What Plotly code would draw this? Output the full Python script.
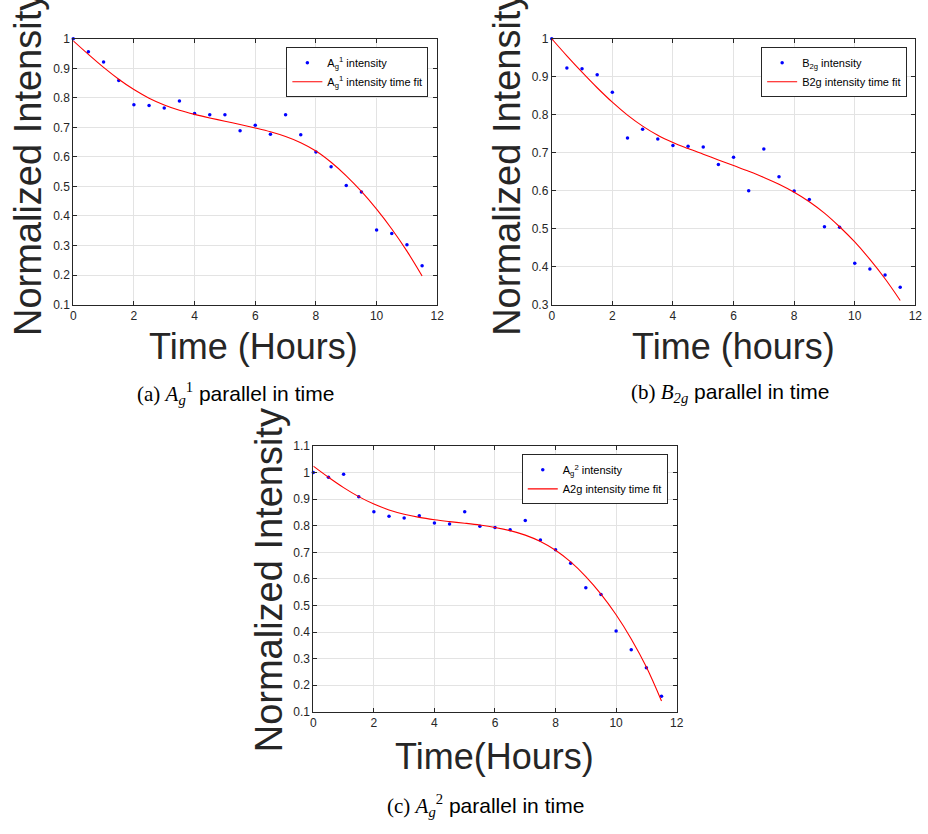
import plotly.graph_objects as go

# Measurement times (hours)
hours = [0, 0.5, 1, 1.5, 2, 2.5, 3, 3.5, 4, 4.5, 5, 5.5,
         6, 6.5, 7, 7.5, 8, 8.5, 9, 9.5, 10, 10.5, 11, 11.5]

# A_g^1 mode: measured normalized intensity and time fit
a1_intensity = [1.000, 0.956, 0.921, 0.859, 0.777, 0.774, 0.766, 0.789, 0.747, 0.743, 0.743, 0.689,
                0.707, 0.677, 0.743, 0.675, 0.617, 0.567, 0.503, 0.481, 0.353, 0.341, 0.303, 0.232]
a1_fit = [0.993, 0.947, 0.903, 0.863, 0.828, 0.799, 0.776, 0.758, 0.744, 0.732, 0.721, 0.710,
          0.698, 0.685, 0.669, 0.648, 0.620, 0.582, 0.536, 0.483, 0.423, 0.356, 0.281, 0.197]

# B_2g mode
b2g_intensity = [1.000, 0.923, 0.921, 0.905, 0.859, 0.739, 0.762, 0.736, 0.719, 0.717, 0.715, 0.669,
                 0.688, 0.600, 0.710, 0.637, 0.599, 0.577, 0.505, 0.504, 0.409, 0.394, 0.378, 0.346]
b2g_fit = [1.000, 0.955, 0.912, 0.871, 0.833, 0.799, 0.770, 0.746, 0.727, 0.711, 0.696, 0.681,
           0.666, 0.651, 0.635, 0.617, 0.596, 0.571, 0.541, 0.505, 0.465, 0.419, 0.368, 0.311]

# A_g^2 mode
a2_intensity = [1.001, 0.983, 0.994, 0.910, 0.853, 0.836, 0.830, 0.838, 0.811, 0.807, 0.853, 0.798,
                0.794, 0.785, 0.820, 0.747, 0.710, 0.659, 0.567, 0.541, 0.404, 0.333, 0.265, 0.158]
a2_fit = [1.025, 0.983, 0.944, 0.910, 0.882, 0.860, 0.844, 0.832, 0.823, 0.816, 0.810, 0.803,
          0.794, 0.782, 0.765, 0.741, 0.708, 0.664, 0.609, 0.543, 0.465, 0.374, 0.268, 0.140]

x_ticks = [0, 2, 4, 6, 8, 10, 12]
yticks_a = [0.1, 0.2, 0.3, 0.4, 0.5, 0.6, 0.7, 0.8, 0.9, 1.0]
yticks_b = [0.3, 0.4, 0.5, 0.6, 0.7, 0.8, 0.9, 1.0]
yticks_c = [0.1, 0.2, 0.3, 0.4, 0.5, 0.6, 0.7, 0.8, 0.9, 1.0, 1.1]

W, H = 928, 834
AX_COLOR = "#262626"
GRID = "#e3e3e3"
SANS = "Liberation Sans, Arial, sans-serif"
SERIF = "Liberation Serif, DejaVu Serif, serif"


def px_x(p):
    return p / W


def px_y(p):
    return 1 - p / H


def fmt(v):
    s = f"{v:.1f}"
    return "1" if s == "1.0" else s


fig = go.Figure()

panels = [
    # (axis suffix, measured, fit, legend id, point name, fit name)
    ("", a1_intensity, a1_fit, "legend",
     "A<sub>g</sub><sup>1</sup> intensity", "A<sub>g</sub><sup>1</sup> intensity time fit"),
    ("2", b2g_intensity, b2g_fit, "legend2",
     "B<sub>2g</sub> intensity", "B2g intensity time fit"),
    ("3", a2_intensity, a2_fit, "legend3",
     "A<sub>g</sub><sup>2</sup> intensity", "A2g intensity time fit"),
]

for suffix, meas, fit, leg, pname, fname in panels:
    fig.add_trace(go.Scatter(
        x=hours, y=meas, mode="markers", name=pname,
        marker=dict(color="#0000ff", size=3.5),
        cliponaxis=False,
        xaxis="x" + suffix, yaxis="y" + suffix, legend=leg,
    ))
    fig.add_trace(go.Scatter(
        x=hours, y=fit, mode="lines", name=fname,
        line=dict(color="#ff0000", width=1.1, shape="spline", smoothing=1.0),
        xaxis="x" + suffix, yaxis="y" + suffix, legend=leg,
    ))


def xaxis(domain, anchor):
    return dict(domain=domain, anchor=anchor, range=[0, 12], tickvals=x_ticks,
                ticktext=[str(t) for t in x_ticks], ticks="inside", ticklen=4,
                tickcolor=AX_COLOR, showline=True, linecolor=AX_COLOR, linewidth=1,
                mirror="ticks", showgrid=True, gridcolor=GRID, gridwidth=1,
                zeroline=False, tickfont=dict(family=SANS, size=12, color=AX_COLOR))


def yaxis(domain, anchor, rng, ticks):
    return dict(domain=domain, anchor=anchor, range=rng, tickvals=ticks,
                ticktext=[fmt(t) for t in ticks], ticks="inside", ticklen=4,
                tickcolor=AX_COLOR, showline=True, linecolor=AX_COLOR, linewidth=1,
                mirror="ticks", showgrid=True, gridcolor=GRID, gridwidth=1,
                zeroline=False, tickfont=dict(family=SANS, size=12, color=AX_COLOR))


dom_a_x = [px_x(71), px_x(439)]
dom_b_x = [px_x(554.7), px_x(922.3)]
dom_top_y = [px_y(302.7), px_y(32.3)]
dom_c_x = [px_x(313.7), px_x(681)]
dom_c_y = [px_y(716.7), px_y(446.7)]


def legend_at(right_px, top_px):
    return dict(x=px_x(right_px), y=px_y(top_px), xanchor="right", yanchor="top",
                bgcolor="white", bordercolor=AX_COLOR, borderwidth=1,
                font=dict(family=SANS, size=11, color="#000000"),
                itemwidth=30, tracegroupgap=0)


fig.update_layout(
    width=W, height=H, margin=dict(l=0, r=0, t=0, b=0),
    paper_bgcolor="white", plot_bgcolor="white", showlegend=True,
    xaxis=xaxis(dom_a_x, "y"),
    yaxis=yaxis(dom_top_y, "x", [0.1, 1.0], yticks_a),
    xaxis2=xaxis(dom_b_x, "y2"),
    yaxis2=yaxis(dom_top_y, "x2", [0.3, 1.0], yticks_b),
    xaxis3=xaxis(dom_c_x, "y3"),
    yaxis3=yaxis(dom_c_y, "x3", [0.1, 1.1], yticks_c),
    legend=legend_at(430, 41),
    legend2=legend_at(914, 41),
    legend3=legend_at(672, 455),
)

TITLE_FONT = dict(family=SANS, size=36, color=AX_COLOR)
YTITLE_FONT = dict(family=SANS, size=38, color=AX_COLOR)

# Axis titles
for (x, y, txt) in [(253, 345, "Time (Hours)"), (738, 345, "Time (hours)"), (497, 762, "Time(Hours)")]:
    fig.add_annotation(x=px_x(x), y=px_y(y), xref="paper", yref="paper", text=txt,
                       showarrow=False, xanchor="center", yanchor="middle", font=TITLE_FONT)

for (x, y) in [(26, 160), (510, 160), (269, 583)]:
    fig.add_annotation(x=px_x(x), y=px_y(y), xref="paper", yref="paper",
                       text="Normalized Intensity", textangle=-90, showarrow=False,
                       xanchor="center", yanchor="middle", font=YTITLE_FONT)


# Sub-figure captions
def caption(label, sym, sub, sup):
    s = f'<span style="font-family:{SERIF}">({label}) <i>{sym}</i></span>'
    s += f'<sub><i style="font-family:{SERIF}">{sub}</i></sub>'
    if sup:
        s += f'<sup style="font-family:{SERIF}">{sup}</sup>'
    s += ' parallel in time'
    return s


for (x, y, txt) in [(235, 393, caption("a", "A", "g", "1")),
                    (735, 393, caption("b", "B", "2g", "")),
                    (488, 812, caption("c", "A", "g", "2"))]:
    fig.add_annotation(x=px_x(x), y=px_y(y), xref="paper", yref="paper", text=txt,
                       showarrow=False, xanchor="center", yanchor="middle",
                       font=dict(family=SANS, size=21, color="#000000"))

fig.write_html("out.html")
